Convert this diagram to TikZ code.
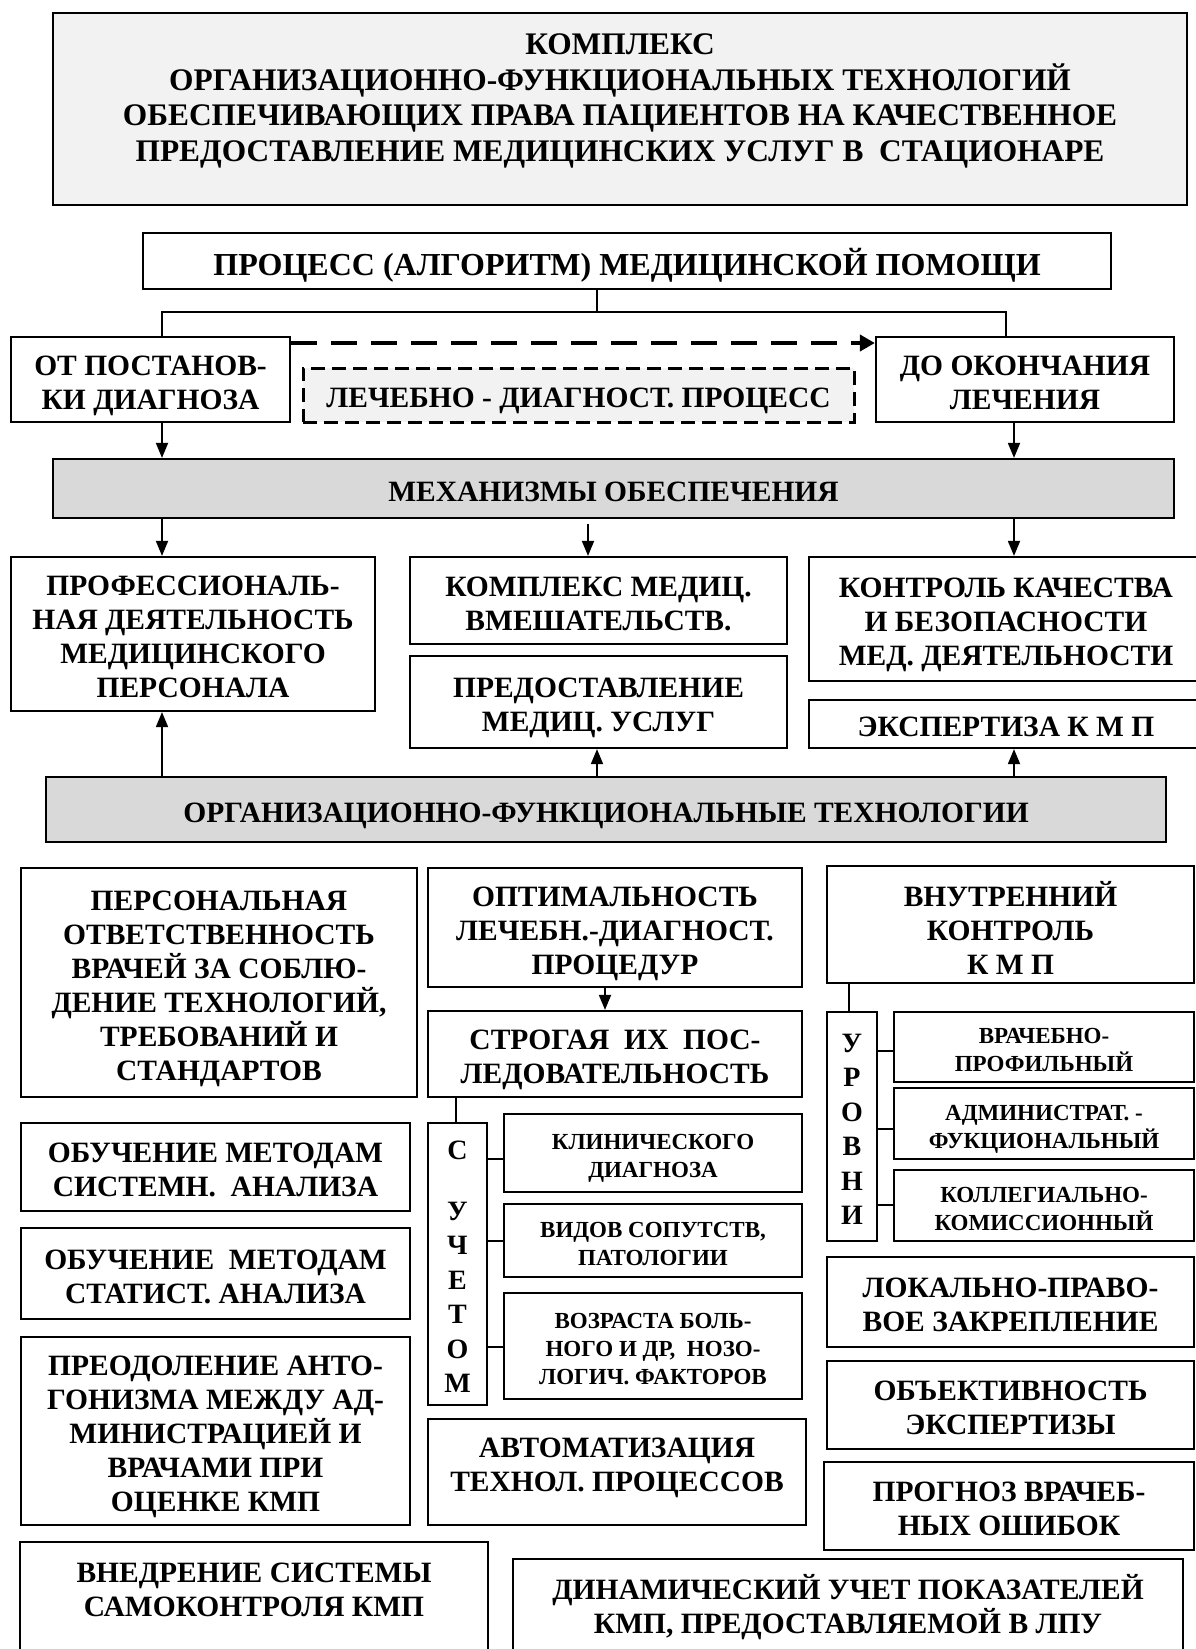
\documentclass[tikz,border=0pt]{standalone}
\usepackage{fontspec}
\setmainfont{Liberation Serif}
\usetikzlibrary{arrows.meta}
\definecolor{lightfill}{HTML}{F2F2F2}
\definecolor{midfill}{HTML}{D9D9D9}
\newcommand\FontTitle{\fontsize{31.4}{35.5}\selectfont\bfseries}
\newcommand\FontProc{\fontsize{32}{36}\selectfont\bfseries}
\newcommand\FontMain{\fontsize{29.5}{34}\selectfont\bfseries}
\newcommand\FontSmall{\fontsize{23}{28}\selectfont\bfseries}
\newcommand\FontLetter{\fontsize{28}{34.5}\selectfont\bfseries}
% #1 box options, #2 name, #3 x1, #4 y1, #5 x2, #6 y2, #7 font, #8 text
\newcommand\bx[8][]{%
  \node[box,#1,minimum width={(#5-#3)*1pt},minimum height={(#6-#4)*1pt}]
    (#2) at ({(#3+#5)/2},{(#4+#6)/2}) {};
  \node[boxtxt, font=#7] (#2-t) at ([yshift=-3pt]#2.center) {#8};}
\tikzset{
  box/.style={draw, line width=2.2pt, inner sep=0pt},
  boxtxt/.style={inner sep=0pt, align=center, text depth=0pt},
  txt/.style={inner sep=0pt, align=center},
  conn/.style={line width=1.8pt},
  arr/.style={line width=1.8pt, -{Triangle[length=15pt,width=12pt]}},
  darr/.style={line width=4pt, dash pattern=on 26pt off 14pt, -{Triangle[length=15pt,width=16pt]}},
  dashbox/.style={fill=lightfill, line width=3pt, dash pattern=on 14pt off 7pt},
}
\begin{document}
\begin{tikzpicture}[x=1pt,y=-1pt]
\useasboundingbox (0,0) rectangle (1195,1649);
% helper x / y positions
\coordinate (xl) at (162,0);
\coordinate (xr) at (1014,0);
\coordinate (xm) at (597,0);
\coordinate (xk) at (588,0);
\coordinate (xs) at (1006,0);
\coordinate (yd) at (0,343);
\coordinate (ysplit) at (0,312);

% title
\node[box, fill=lightfill, minimum width=1134pt, minimum height=192pt] (title) at (620,109) {};
\node[txt, font=\FontTitle] (titletxt) at (620,101)
 {КОМПЛЕКС\\ОРГАНИЗАЦИОННО-ФУНКЦИОНАЛЬНЫХ ТЕХНОЛОГИЙ\\ОБЕСПЕЧИВАЮЩИХ ПРАВА ПАЦИЕНТОВ НА КАЧЕСТВЕННОЕ\\ПРЕДОСТАВЛЕНИЕ МЕДИЦИНСКИХ УСЛУГ В~~СТАЦИОНАРЕ};

% process
\node[box, minimum width=968pt, minimum height=56pt] (proc) at (627,261) {};
\node[boxtxt, font=\FontProc] (proc-t) at (627,262) {ПРОЦЕСС (АЛГОРИТМ) МЕДИЦИНСКОЙ ПОМОЩИ};
\bx{ot}{11}{337}{290}{422}{\FontMain}{ОТ ПОСТАНОВ-\\КИ ДИАГНОЗА}
\bx{do}{876}{337}{1174}{422}{\FontMain}{ДО ОКОНЧАНИЯ\\ЛЕЧЕНИЯ}
\bx[dashbox]{lech}{303}{368}{854}{422}{\FontMain}{ЛЕЧЕБНО - ДИАГНОСТ. ПРОЦЕСС}
\draw[conn] (proc.south -| xm) -- (ysplit -| xm) -| (ot.north -| xl);
\draw[conn] (ysplit -| xm) -| (do.north -| xs);
\draw[darr] (ot.east |- yd) -- (do.west |- yd);

% mechanisms
\bx[fill=midfill]{mech}{53}{459}{1174}{518}{\FontMain}{МЕХАНИЗМЫ ОБЕСПЕЧЕНИЯ}
\draw[arr] (ot.south -| xl) -- (mech.north -| xl);
\draw[arr] (do.south -| xr) -- (mech.north -| xr);

\bx{prof}{11}{557}{375}{711}{\FontMain}{ПРОФЕССИОНАЛЬ-\\НАЯ ДЕЯТЕЛЬНОСТЬ\\МЕДИЦИНСКОГО\\ПЕРСОНАЛА}
\bx{kompl}{410}{557}{787}{644}{\FontMain}{КОМПЛЕКС МЕДИЦ.\\ВМЕШАТЕЛЬСТВ.}
\bx{predost}{410}{656}{787}{748}{\FontMain}{ПРЕДОСТАВЛЕНИЕ\\МЕДИЦ. УСЛУГ}
\bx{kontrol}{809}{557}{1203}{681}{\FontMain}{КОНТРОЛЬ КАЧЕСТВА\\И БЕЗОПАСНОСТИ\\МЕД. ДЕЯТЕЛЬНОСТИ}
\bx{eksp}{809}{700}{1203}{748}{\FontMain}{ЭКСПЕРТИЗА К М П}
\draw[arr] (mech.south -| xl) -- (prof.north -| xl);
\draw[arr, shorten <=5pt] (mech.south -| xk) -- (kompl.north -| xk);
\draw[arr] (mech.south -| xr) -- (kontrol.north -| xr);

% technologies
\bx[fill=midfill]{oft}{46}{777}{1166}{842}{\FontMain}{ОРГАНИЗАЦИОННО-ФУНКЦИОНАЛЬНЫЕ ТЕХНОЛОГИИ}
\draw[arr] (oft.north -| xl) -- (prof.south -| xl);
\draw[arr] (oft.north -| xm) -- (predost.south -| xm);
\draw[arr] (oft.north -| xr) -- (eksp.south -| xr);

% left column
\bx{pers}{21}{868}{417}{1097}{\FontMain}{ПЕРСОНАЛЬНАЯ\\ОТВЕТСТВЕННОСТЬ\\ВРАЧЕЙ ЗА СОБЛЮ-\\ДЕНИЕ ТЕХНОЛОГИЙ,\\ТРЕБОВАНИЙ И\\СТАНДАРТОВ}
\bx{obuchA}{21}{1123}{410}{1211}{\FontMain}{ОБУЧЕНИЕ МЕТОДАМ\\СИСТЕМН.~~АНАЛИЗА}
\bx{obuchB}{21}{1228}{410}{1319}{\FontMain}{ОБУЧЕНИЕ~~МЕТОДАМ\\СТАТИСТ. АНАЛИЗА}
\bx{preod}{21}{1337}{410}{1525}{\FontMain}{ПРЕОДОЛЕНИЕ АНТО-\\ГОНИЗМА МЕЖДУ АД-\\МИНИСТРАЦИЕЙ И\\ВРАЧАМИ ПРИ\\ОЦЕНКЕ КМП}
\node[box, minimum width=468pt, minimum height=138pt] (vnedr) at (254,1611) {};
\node[txt, font=\FontMain] (vnedrtxt) at (254,1590) {ВНЕДРЕНИЕ СИСТЕМЫ\\САМОКОНТРОЛЯ КМП};

% middle column
\bx{optim}{428}{868}{802}{987}{\FontMain}{ОПТИМАЛЬНОСТЬ\\ЛЕЧЕБН.-ДИАГНОСТ.\\ПРОЦЕДУР}
\bx{strog}{428}{1011}{802}{1097}{\FontMain}{СТРОГАЯ~~ИХ~~ПОС-\\ЛЕДОВАТЕЛЬНОСТЬ}
\coordinate (xo) at (605,0);
\coordinate (xu) at (456,0);
\draw[arr] (optim.south -| xo) -- (strog.north -| xo);
\bx{uchet}{428}{1123}{487}{1405}{\FontLetter}{С\\[26pt]У\\Ч\\Е\\Т\\О\\М}
\draw[conn] (strog.south -| xu) -- (uchet.north -| xu);
\bx{klin}{504}{1114}{802}{1192}{\FontSmall}{КЛИНИЧЕСКОГО\\ДИАГНОЗА}
\bx{vidov}{504}{1204}{802}{1277}{\FontSmall}{ВИДОВ СОПУТСТВ,\\ПАТОЛОГИИ}
\bx{vozr}{504}{1293}{802}{1399}{\FontSmall}{ВОЗРАСТА БОЛЬ-\\НОГО И ДР,~~НОЗО-\\ЛОГИЧ. ФАКТОРОВ}
\coordinate (ya) at (0,1159);
\coordinate (yb) at (0,1241);
\coordinate (yc) at (0,1347);
\draw[conn] (uchet.east |- ya) -- (klin.west |- ya);
\draw[conn] (uchet.east |- yb) -- (vidov.west |- yb);
\draw[conn] (uchet.east |- yc) -- (vozr.west |- yc);
\node[box, minimum width=378pt, minimum height=106pt] (avtom) at (617,1472) {};
\node[txt, font=\FontMain] (avtomtxt) at (617,1468) {АВТОМАТИЗАЦИЯ\\ТЕХНОЛ. ПРОЦЕССОВ};
\node[box, minimum width=670pt, minimum height=121pt] (dinam) at (848,1619.5) {};
\node[txt, font=\FontMain] (dinamtxt) at (848,1607) {ДИНАМИЧЕСКИЙ УЧЕТ ПОКАЗАТЕЛЕЙ\\КМП, ПРЕДОСТАВЛЯЕМОЙ В ЛПУ};

% right column
\bx{vnutr}{827}{866}{1194}{983}{\FontMain}{ВНУТРЕННИЙ\\КОНТРОЛЬ\\К М П}
\bx{urovni}{827}{1012}{877}{1241}{\FontLetter}{У\\Р\\О\\В\\Н\\И}
\coordinate (xv) at (849,0);
\draw[conn] (vnutr.south -| xv) -- (urovni.north -| xv);
\bx{vrach}{894}{1012}{1194}{1082}{\FontSmall}{ВРАЧЕБНО-\\ПРОФИЛЬНЫЙ}
\bx{admin}{894}{1088}{1194}{1159}{\FontSmall}{АДМИНИСТРАТ. -\\ФУКЦИОНАЛЬНЫЙ}
\bx{koll}{894}{1170}{1194}{1241}{\FontSmall}{КОЛЛЕГИАЛЬНО-\\КОМИССИОННЫЙ}
\coordinate (yd1) at (0,1051);
\coordinate (yd2) at (0,1129);
\coordinate (yd3) at (0,1205);
\draw[conn] (urovni.east |- yd1) -- (vrach.west |- yd1);
\draw[conn] (urovni.east |- yd2) -- (admin.west |- yd2);
\draw[conn] (urovni.east |- yd3) -- (koll.west |- yd3);
\bx{lokal}{827}{1257}{1194}{1347}{\FontMain}{ЛОКАЛЬНО-ПРАВО-\\ВОЕ ЗАКРЕПЛЕНИЕ}
\bx{obekt}{827}{1361}{1194}{1449}{\FontMain}{ОБЪЕКТИВНОСТЬ\\ЭКСПЕРТИЗЫ}
\bx{prognoz}{824}{1462}{1194}{1550}{\FontMain}{ПРОГНОЗ ВРАЧЕБ-\\НЫХ ОШИБОК}
\end{tikzpicture}
\end{document}
